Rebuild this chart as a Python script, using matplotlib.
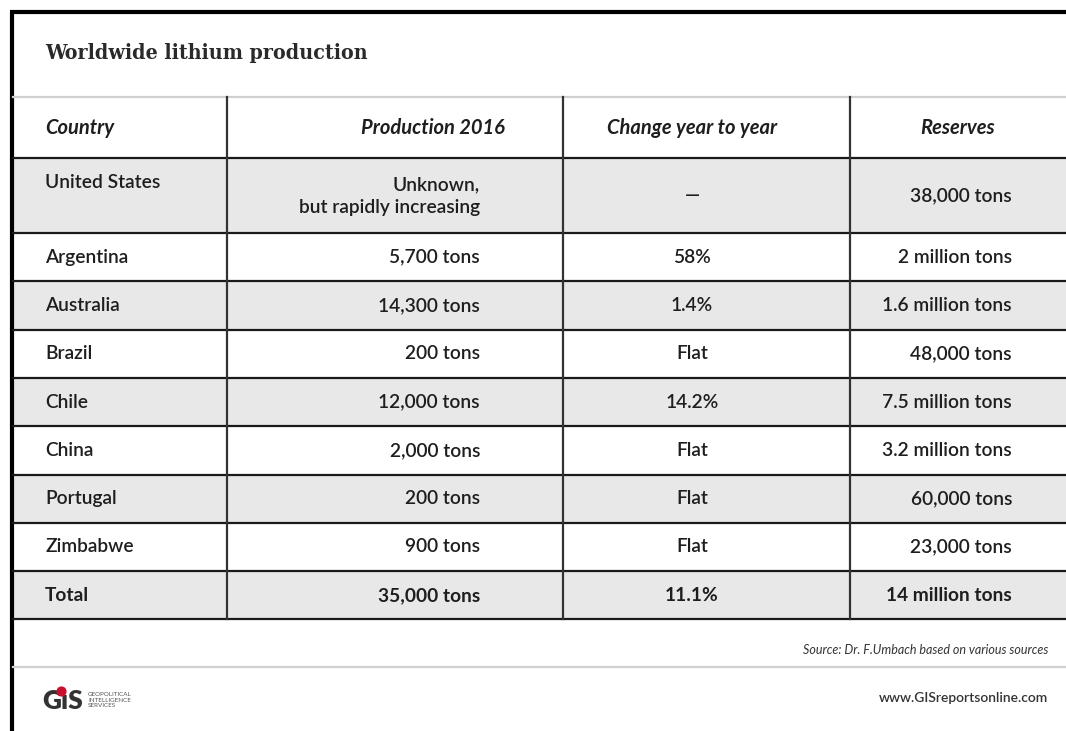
import numpy as np
import matplotlib.pyplot as plt

headers = ['Country', 'Production 2016', 'Change year to year', 'Reserves']
countries = ['United States', 'Argentina', 'Australia', 'Brazil', 'Chile',
             'China', 'Portugal', 'Zimbabwe', 'Total']
production = ['Unknown,\nbut rapidly increasing', '5,700 tons', '14,300 tons',
              '200 tons', '12,000 tons', '2,000 tons', '200 tons', '900 tons',
              '35,000 tons']
change = ['\u2014', '58%', '1.4%', 'Flat', '14.2%', 'Flat', 'Flat', 'Flat', '11.1%']
reserves = ['38,000 tons', '2 million tons', '1.6 million tons', '48,000 tons',
            '7.5 million tons', '3.2 million tons', '60,000 tons', '23,000 tons',
            '14 million tons']

W, H = 1066, 731
fig = plt.figure(figsize=(W / 100, H / 100), dpi=100)
ax = fig.add_axes([0, 0, 1, 1])
ax.set_xlim(0, W)
ax.set_ylim(H, 0)
ax.axis('off')

txt = '#1e1e1e'
body = 'Lato'

# frame (only top and left edges visible)
ax.plot([12, 12], [12, H], color='black', lw=3, solid_capstyle='butt')
ax.plot([10, W], [12, 12], color='black', lw=3, solid_capstyle='butt')

ax.text(45, 53, 'Worldwide lithium production', fontsize=15.3, fontweight='bold',
        family='DejaVu Serif', stretch='condensed', color='#2a2a2a',
        va='center', ha='left')

# row geometry
head_top, head_bot = 97, 158
heights = [75] + [48.3] * 8
bounds = head_bot + np.concatenate([[0], np.cumsum(heights)])
col_x = [227, 563, 850]

for i in range(len(countries)):
    if i % 2 == 0:
        ax.add_patch(plt.Rectangle((13, bounds[i]), W - 13, heights[i],
                                   color='#e8e8e8', lw=0, zorder=0))

ax.plot([13, W], [head_top, head_top], color='#d0d0d0', lw=1.6)
for y in bounds:
    ax.plot([13, W], [y, y], color='#1a1a1a', lw=1.6)
for x in col_x:
    ax.plot([x, x], [head_top, bounds[-1]], color='#333333', lw=1.6)

# header
hy = (head_top + head_bot) / 2
hkw = dict(fontsize=14.5, fontweight='bold', style='italic', family=body,
           color=txt, va='center')
ax.text(45, hy, headers[0], ha='left', **hkw)
ax.text(433, hy, headers[1], ha='center', **hkw)
ax.text(692, hy, headers[2], ha='center', **hkw)
ax.text(958, hy, headers[3], ha='center', **hkw)

for i in range(len(countries)):
    yc = (bounds[i] + bounds[i + 1]) / 2
    w = 'bold' if countries[i] == 'Total' else 'semibold'
    kw = dict(fontsize=13.8, family=body, color=txt, fontweight=w)
    if i == 0:
        ax.text(45, bounds[i] + 25, countries[i], ha='left', va='center', **kw)
        ax.text(480, bounds[i] + 38, production[i], ha='right', va='center',
                multialignment='right', linespacing=1.4, **kw)
    else:
        ax.text(45, yc, countries[i], ha='left', va='center', **kw)
        ax.text(480, yc, production[i], ha='right', va='center', **kw)
    ax.text(692, yc, change[i], ha='center', va='center', **kw)
    ax.text(1012, yc, reserves[i], ha='right', va='center', **kw)

# footer
ax.text(1048, 650, 'Source: Dr. F.Umbach based on various sources', fontsize=9,
        style='italic', family=body, color='#333333', ha='right', va='center')
ax.plot([13, W], [667, 667], color='#d0d0d0', lw=1.6)
ax.text(1048, 698, 'www.GISreportsonline.com', fontsize=10, fontweight='semibold',
        family=body, color='#333333', ha='right', va='center')

# logo
ax.text(42, 701, 'G\u0131S', fontsize=19, fontweight='heavy', family=body,
        color='#333333', ha='left', va='center')
ax.scatter([61], [691], s=40, color='#c8102e', zorder=5)
ax.text(88, 700, 'GEOPOLITICAL\nINTELLIGENCE\nSERVICES', fontsize=4.5, family=body,
        color='#555555', ha='left', va='center', linespacing=1.1)

plt.savefig('out.png', dpi=100)
